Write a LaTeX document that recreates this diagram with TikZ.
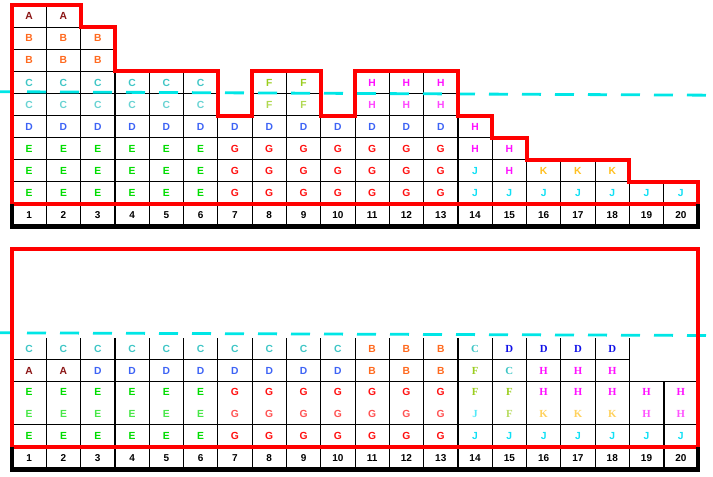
\documentclass[tikz,border=0pt]{standalone}
\usepackage{fontspec}
\setmainfont{Liberation Sans}
\newfontfamily\serifcell{Liberation Serif}
\definecolor{cA}{HTML}{8B1515}
\definecolor{cB}{HTML}{FF6A1F}
\definecolor{cC}{HTML}{3FC6C6}
\definecolor{cD}{HTML}{3D63F5}
\definecolor{cDd}{HTML}{1010E8}
\definecolor{cE}{HTML}{00DD00}
\definecolor{cF}{HTML}{9ACD1E}
\definecolor{cG}{HTML}{FF1010}
\definecolor{cH}{HTML}{FF10FF}
\definecolor{cJ}{HTML}{10E0F5}
\definecolor{cK}{HTML}{FFC020}
\definecolor{dashc}{HTML}{00E6E6}
\definecolor{outl}{HTML}{FF0000}
\begin{document}
\begin{tikzpicture}[x=1pt,y=-1pt,
  gridline/.style={black,line width=0.9pt},
  sepline/.style={black,line width=1.9pt},
  redline/.style={outl,line width=4pt,line join=miter},
  numframe/.style={black,line width=4.4pt,line join=miter},
  cutline/.style={dashc,line width=2.8pt,dash pattern=on 19pt off 14pt,dash phase=6pt},
  letter/.style={inner sep=0pt,anchor=center,text height=7.4pt,text depth=0pt},
  numlabel/.style={font=\fontsize{10}{10}\selectfont\bfseries,inner sep=0pt,anchor=center,text height=7.2pt,text depth=0pt}]
\useasboundingbox (0,0) rectangle (713,477);
\fill[white] (0,0) rectangle (713,477);

% ---------------- top grid ----------------
\foreach \row [count=\r] in {{A,A},{B,B,B},{B,B,B},
  {C,C,C,C,C,C,-,F,F,-,H,H,H},
  {C,C,C,C,C,C,-,F,F,-,H,H,H},
  {D,D,D,D,D,D,D,D,D,D,D,D,D,H},
  {E,E,E,E,E,E,G,G,G,G,G,G,G,H,H},
  {E,E,E,E,E,E,G,G,G,G,G,G,G,J,H,K,K,K},
  {E,E,E,E,E,E,G,G,G,G,G,G,G,J,J,J,J,J,J,J}}{
  \foreach \L [count=\c] in \row {
    \if\L-\else
      \pgfmathsetmacro\xa{12+34.3*(\c-1)}
      \pgfmathsetmacro\xb{12+34.3*\c}
      \pgfmathsetmacro\ya{5+22.1*(\r-1)}
      \pgfmathsetmacro\yb{5+22.1*\r}
      \draw[gridline] (\xa,\ya) rectangle (\xb,\yb);
      \ifnum\r=5 \def\shade{78}\else\def\shade{100}\fi
      \node[letter,font=\fontsize{10.3}{10.3}\selectfont\bfseries,text=c\L!\shade] (t\r-\c) at ({(\xa+\xb)/2},{(\ya+\yb)/2}) {\L};
    \fi
  }
}
\foreach \c in {1,...,20}{
  \pgfmathsetmacro\xa{12+34.3*(\c-1)}
  \pgfmathsetmacro\xb{12+34.3*\c}
  \draw[gridline] (\xa,204) rectangle (\xb,226.5);
  \node[numlabel] (tn\c) at ({(\xa+\xb)/2},215.3) {\c};
}
\draw[sepline] (114.9,71.3) -- (114.9,226.5);
\draw[sepline] (457.9,115.5) -- (457.9,226.5);
\draw[cutline] (0,91.7) -- (713,95.2);
\draw[redline] (12,204) -- (12,5) -- (80.6,5) -- (80.6,27.1) -- (114.9,27.1)
  -- (114.9,71.3) -- (217.8,71.3) -- (217.8,115.5) -- (252.1,115.5)
  -- (252.1,71.3) -- (320.7,71.3) -- (320.7,115.5) -- (355,115.5)
  -- (355,71.3) -- (457.9,71.3) -- (457.9,115.5) -- (492.2,115.5)
  -- (492.2,137.6) -- (526.5,137.6) -- (526.5,159.7) -- (629.4,159.7)
  -- (629.4,181.8) -- (698,181.8) -- (698,204) -- cycle;
\draw[numframe] (12,204) -- (12,226.5) -- (698,226.5) -- (698,204);

% ---------------- bottom grid ----------------
\foreach \c in {2,...,19}{
  \pgfmathsetmacro\xa{12+34.3*(\c-1)}
  \draw[gridline] (\xa,338) -- (\xa,446.5);
}
\draw[gridline] (663.7,381.4) -- (663.7,446.5);
\draw[gridline] (12,359.7) -- (629.4,359.7);
\draw[gridline] (12,381.4) -- (698,381.4);
\draw[gridline] (12,424.8) -- (698,424.8);
\foreach \row [count=\r] in {
  {C,C,C,C,C,C,C,C,C,C,B,B,B,C,D,D,D,D},
  {A,A,D,D,D,D,D,D,D,D,B,B,B,F,C,H,H,H},
  {E,E,E,E,E,E,G,G,G,G,G,G,G,F,F,H,H,H,H,H},
  {E,E,E,E,E,E,G,G,G,G,G,G,G,J,F,K,K,K,H,H},
  {E,E,E,E,E,E,G,G,G,G,G,G,G,J,J,J,J,J,J,J}}{
  \foreach \L [count=\c] in \row {
    \pgfmathsetmacro\xm{12+34.3*(\c-0.5)}
    \pgfmathsetmacro\ym{338+21.7*(\r-0.5)}
    \ifnum\r=4 \def\shade{72}\else\def\shade{100}\fi
    \def\fnt{\fontsize{10.3}{10.3}\selectfont\bfseries}
    \ifnum\r<5 \ifnum\c>13 \def\fnt{\fontsize{10.8}{10.8}\selectfont\serifcell\bfseries}\fi\fi
    \def\col{c\L!\shade}
    \ifnum\r=1 \ifnum\c>14 \def\col{cDd}\fi\fi
    \node[letter,font=\fnt,text=\col] (b\r-\c) at (\xm,\ym) {\L};
  }
}
\foreach \c in {1,...,20}{
  \pgfmathsetmacro\xa{12+34.3*(\c-1)}
  \pgfmathsetmacro\xb{12+34.3*\c}
  \draw[gridline] (\xa,446.5) rectangle (\xb,469.5);
  \node[numlabel] (bn\c) at ({(\xa+\xb)/2},458) {\c};
}
\draw[sepline] (114.9,338) -- (114.9,469.5);
\draw[sepline] (457.9,338) -- (457.9,469.5);
\draw[sepline] (663.7,381.4) -- (663.7,469.5);
\draw[cutline] (0,332.8) -- (713,335.5);
\draw[redline] (12,248.6) rectangle (698,446.5);
\draw[numframe] (12,446.5) -- (12,469.5) -- (698,469.5) -- (698,446.5);
\end{tikzpicture}
\end{document}
